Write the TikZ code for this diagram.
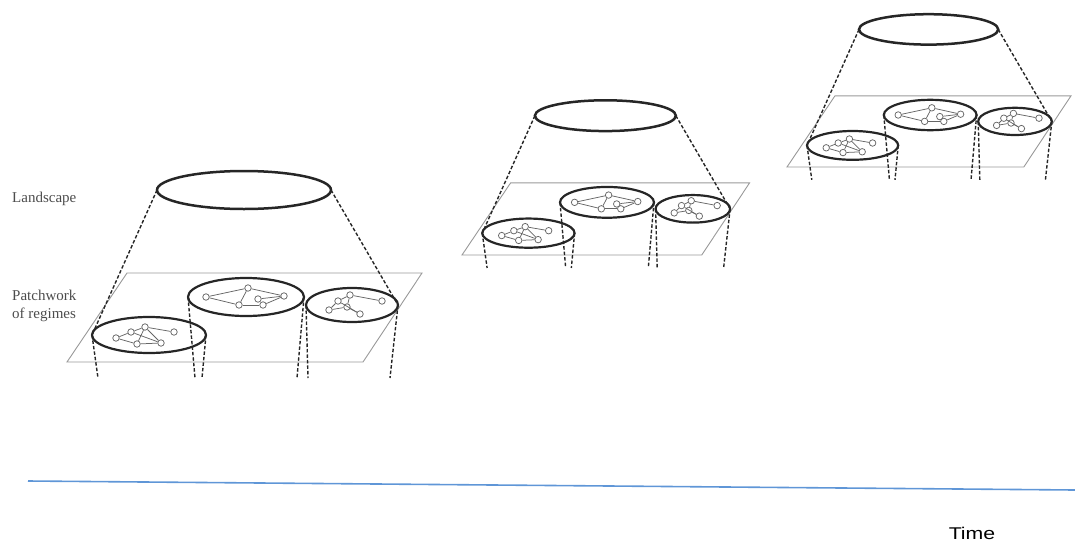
\documentclass[tikz,border=0pt]{standalone}
\usepackage{fontspec}
\setmainfont{Liberation Serif}
\newfontfamily\timefont{Liberation Sans}
\definecolor{timeblue}{RGB}{95,150,215}

% a small network of actors inside one regime
\newcommand{\network}[2]{%
  \foreach \k/\px/\py in {#1}
    \node[actor] (n\k) at (\px,\py) {};
  \foreach \a/\b in {#2}
    \draw[net] (n\a) -- (n\b);
}

\begin{document}
\begin{tikzpicture}[x=1pt,y=-1pt,
  land/.style={draw=black!85, line width=2.5pt},
  patch/.style={draw=black!85, line width=2.2pt},
  plane/.style={draw=black!40, line width=0.9pt},
  proj/.style={draw=black!85, line width=1.4pt, dash pattern=on 3.5pt off 2pt},
  net/.style={draw=black!60, line width=0.75pt},
  actor/.style={circle, draw=black!60, line width=0.75pt, inner sep=0pt, minimum size=6.5pt},
  lbl/.style={text=black!70, font=\fontsize{15}{18}\selectfont, align=left, anchor=west, inner sep=0pt},
  timeline/.style={draw=timeblue, line width=1.6pt},
  timelbl/.style={font=\timefont\fontsize{17}{20}\selectfont, xscale=1.25, inner sep=0pt}]
\useasboundingbox (0,0) rectangle (1075,549);

% labels
\node[lbl] (land) at (12,199) {Landscape};
\node[lbl] (patch) at (12,306) {Patchwork\\of regimes};

% landscape over patchwork, three moments in time
\foreach \ox/\oy/\s in {67/362/1, 462/255/0.81, 787/167/0.8}{
\begin{scope}[shift={(\ox,\oy)}, scale=\s]
\draw[plane] (0,0)--(296,0)--(355,-89)--(60,-89)--cycle;
\draw[land] (177,-172) ellipse [x radius=87, y radius=19];
\draw[patch] (82,-27) ellipse [x radius=57, y radius=18];
\draw[patch] (179,-65) ellipse [x radius=58, y radius=19];
\draw[patch] (285,-57) ellipse [x radius=46, y radius=17];
\coordinate (lw) at (90,-172);
\coordinate (le) at (264,-172);
\coordinate (p1w) at (25,-27);
\coordinate (p1e) at (139,-27);
\coordinate (p2w) at (121,-65);
\coordinate (p2e) at (237,-65);
\coordinate (p3w) at (239,-57);
\coordinate (p3e) at (331,-57);
\coordinate (q1w) at (31,16);
\coordinate (q1e) at (135,16);
\coordinate (q2w) at (128,16);
\coordinate (q2e) at (230,16);
\coordinate (q3w) at (241,16);
\coordinate (q3e) at (323,16);
\draw[proj] (lw) -- (p1w);
\draw[proj] (le) -- (p3e);
\foreach \p/\q in {p1w/q1w, p1e/q1e, p2w/q2w, p2e/q2e, p3w/q3w, p3e/q3e}
  \draw[proj] (\p) -- (\q);
\begin{scope}[shift={(82,-27)}]
\network{1/-33/3, 2/-18/-3, 3/-4/-8, 4/12/8, 5/25/-3, 6/-12/9}
  {1/2, 2/3, 3/4, 2/4, 3/6, 6/4, 3/5, 1/6}
\end{scope}
\begin{scope}[shift={(179,-65)}]
\network{1/-40/0, 2/2/-9, 3/38/-1, 4/-7/8, 5/17/8, 6/12/2}
  {1/2, 1/4, 2/4, 2/3, 4/5, 5/3, 6/3}
\end{scope}
\begin{scope}[shift={(285,-57)}]
\network{1/-23/5, 2/-14/-4, 3/-2/-10, 4/30/-4, 5/8/9, 6/-5/2}
  {1/2, 2/3, 3/4, 2/5, 6/5, 1/6, 3/6}
\end{scope}
\end{scope}
}

% time axis
\coordinate (t0) at (28,481);
\coordinate (t1) at (1075,490);
\draw[timeline] (t0) -- (t1);
\node[timelbl] (time) at (972,533) {Time};
\end{tikzpicture}
\end{document}
